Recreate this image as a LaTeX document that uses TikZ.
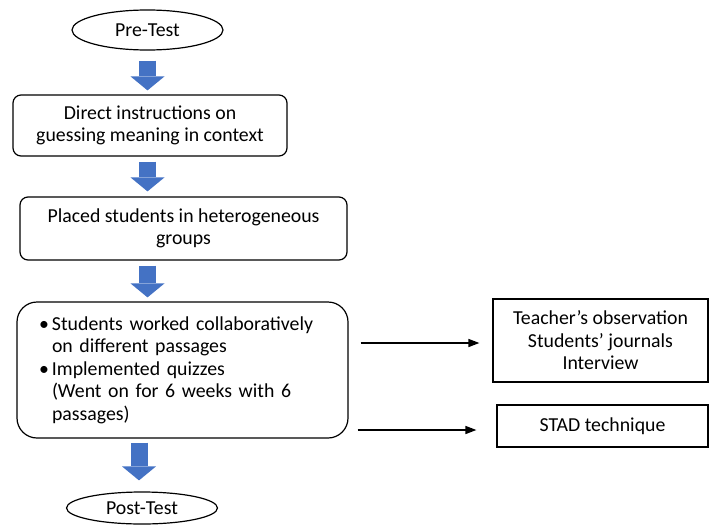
\documentclass[tikz,border=0pt]{standalone}
\usepackage{fontspec}
\setmainfont{Carlito}
\usepackage{tikz}
\usetikzlibrary{shapes.geometric, arrows.meta, positioning, calc}
\definecolor{flowblue}{RGB}{68, 114, 196}
\definecolor{darktext}{RGB}{0, 0, 0}
\newcommand{\itemgap}{\makebox[13pt][l]{\textbullet}}
\newcommand{\itemskip}{\hspace*{13pt}}

\begin{document}
\begin{tikzpicture}[
    x=1pt, y=-1pt,
    font=\fontsize{19.8}{22.5}\selectfont,
    test/.style={ellipse, draw=darktext, line width=1.2pt,
                minimum width=151pt, minimum height=40pt, inner sep=0pt},
    box/.style={rectangle, draw=darktext, line width=1.2pt, rounded corners=8pt,
                align=center, inner sep=0pt},
    outbox/.style={rectangle, draw=darktext, line width=1.2pt, align=center, inner sep=0pt},
    flow/.style={-{Triangle[length=14pt, width=34pt, line width=0pt]}, line width=17pt, flowblue},
    arrow/.style={-{Triangle[length=11pt, width=8pt]}, line width=1.5pt, darktext}
]
\useasboundingbox (0,0) rectangle (709,525);

% Flow
\node[test] (pre) at (147.5, 30) {Pre-Test};
\node[box, minimum width=274pt, minimum height=61pt] (direct) at (150, 125.5)
    {Direct instructions on\\guessing meaning in context};
\node[box, minimum width=327pt, minimum height=63pt] (groups) at (183.5, 228.5)
    {Placed students in heterogeneous\\groups};
\node[box, rounded corners=20pt, minimum width=331pt, minimum height=136pt,
      text width=287pt, align=left] (work) at (182.5, 370)
    {\itemgap Students worked collaboratively\\
     \itemskip on different passages\\
     \itemgap Implemented quizzes\\
     \itemskip (Went on for 6 weeks with 6\\
     \itemskip passages)};
\node[test, minimum height=32pt] (post) at (142, 508) {Post-Test};

% Outcomes
\node[outbox, minimum width=215pt, minimum height=83pt] (observe) at (600.5, 340.5)
    {Teacher’s observation\\Students’ journals\\Interview};
\node[outbox, minimum width=211pt, minimum height=42pt] (stad) at (602.5, 426) {STAD technique};

% Block arrows
\draw[flow, shorten <=10pt, shorten >=4pt] (pre.south) -- (pre.south |- direct.north);
\draw[flow, shorten <=5pt, shorten >=5pt] (direct.south -| pre) -- (groups.north -| pre);
\draw[flow, shorten <=5pt, shorten >=4pt] (groups.south -| pre) -- (work.north -| pre);
\draw[flow, shorten <=4pt, shorten >=11pt] ([xshift=-3pt]work.south -| post) -- ([xshift=-3pt]post.north);

% Side arrows
\draw[arrow, shorten <=12pt, shorten >=13pt] ([yshift=-2.5pt]work.east |- observe) -- ([yshift=-2.5pt]observe.west);
\draw[arrow, shorten <=9pt, shorten >=20pt] ([yshift=-4pt]work.east |- stad) -- ([yshift=-4pt]stad.west);

\end{tikzpicture}
\end{document}
